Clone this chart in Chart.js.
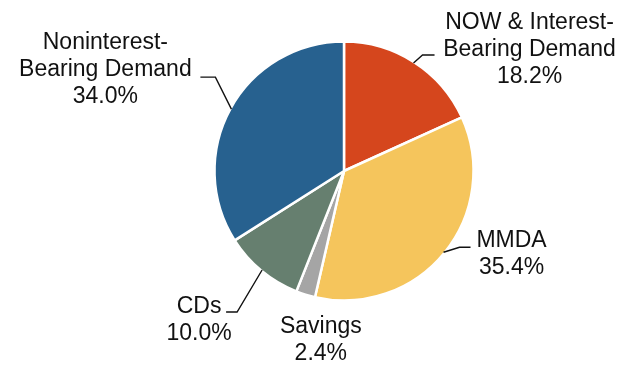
<!DOCTYPE html>
<html>
<head>
<meta charset="utf-8">
<script src="https://cdn.jsdelivr.net/npm/chart.js@4"></script>
<style>
  html, body { margin: 0; padding: 0; background: #fff; }
  #wrap { width: 626px; height: 365px; }
</style>
</head>
<body>
<div id="wrap"><canvas id="pieChart" width="626" height="365"></canvas></div>
<script>
// Deposit mix, clockwise from 12 o'clock
const categories = ['NOW & Interest-Bearing Demand', 'MMDA', 'Savings', 'CDs', 'Noninterest-Bearing Demand'];
const labelLines = [
    ['NOW & Interest-', 'Bearing Demand'],
    ['MMDA'],
    ['Savings'],
    ['CDs'],
    ['Noninterest-', 'Bearing Demand']
];
const shares = [18.2, 35.4, 2.4, 10.0, 34.0];
const sliceColors = ['#D5461D', '#F5C55C', '#A5A5A5', '#667F6F', '#27618F'];

// label placement relative to the slice's outer mid point: elbow, line end, text centre / first baseline
const labelLayout = [
    { elbow: [9, -8],   end: [21, -8],   text: [116, -34] },
    { elbow: [16, -5],  end: [27, -5],   text: [68, -5] },
    { elbow: null,      end: null,       text: [15, 39] },
    { elbow: [-25, 42], end: [-36, 42],  text: [-63, 43] },
    { elbow: [-16, -32], end: [-31, -32], text: [-126, -60] }
];

const sliceLabels = {
    id: 'sliceLabels',
    afterDatasetsDraw(chart) {
        const ctx = chart.ctx;
        const arcs = chart.getDatasetMeta(0).data;
        ctx.save();
        ctx.font = '23px "Liberation Sans", Arial, sans-serif';
        ctx.fillStyle = '#111';
        ctx.strokeStyle = '#111';
        ctx.lineWidth = 1.4;
        ctx.textAlign = 'center';
        ctx.textBaseline = 'alphabetic';
        arcs.forEach((arc, i) => {
            const p = arc.getProps(['x', 'y', 'startAngle', 'endAngle', 'outerRadius'], true);
            const mid = (p.startAngle + p.endAngle) / 2;
            const r = p.outerRadius - 1;
            const ax = p.x + Math.cos(mid) * r;
            const ay = p.y + Math.sin(mid) * r;
            const lay = labelLayout[i];
            if (lay.elbow) {
                ctx.beginPath();
                ctx.moveTo(ax, ay);
                ctx.lineTo(ax + lay.elbow[0], ay + lay.elbow[1]);
                ctx.lineTo(ax + lay.end[0], ay + lay.end[1]);
                ctx.stroke();
            }
            const lines = labelLines[i].concat([shares[i].toFixed(1) + '%']);
            lines.forEach((t, k) => {
                ctx.fillText(t, ax + lay.text[0], ay + lay.text[1] + k * 27);
            });
        });
        ctx.restore();
    }
};

new Chart(document.getElementById('pieChart'), {
    type: 'pie',
    data: {
        labels: categories,
        datasets: [{
            data: shares,
            backgroundColor: sliceColors,
            borderColor: '#fff',
            borderWidth: 2.5
        }]
    },
    options: {
        responsive: false,
        animation: false,
        radius: 129.5,
        layout: { padding: { left: 62, right: 0, top: 0, bottom: 23 } },
        plugins: {
            legend: { display: false },
            tooltip: { enabled: false }
        }
    },
    plugins: [sliceLabels]
});
</script>
</body>
</html>
